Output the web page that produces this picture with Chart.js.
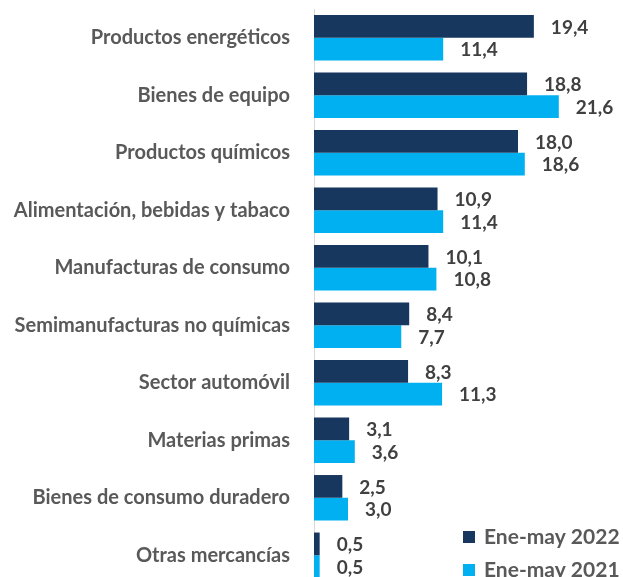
<!DOCTYPE html>
<html>
<head>
<meta charset="utf-8">
<script src="https://cdn.jsdelivr.net/npm/chart.js@4.4.0/dist/chart.umd.min.js"></script>
<style>
  html, body { margin: 0; padding: 0; background: #fff; overflow: hidden; }
  #wrap { position: relative; width: 623px; height: 586px; }
</style>
</head>
<body>
<div id="wrap"><canvas id="chart"></canvas></div>
<script>
const categories = [
  'Productos energéticos',
  'Bienes de equipo',
  'Productos químicos',
  'Alimentación, bebidas y tabaco',
  'Manufacturas de consumo',
  'Semimanufacturas no químicas',
  'Sector automóvil',
  'Materias primas',
  'Bienes de consumo duradero',
  'Otras mercancías'
];
const values2022 = [19.4, 18.8, 18.0, 10.9, 10.1, 8.4, 8.3, 3.1, 2.5, 0.5];
const values2021 = [11.4, 21.6, 18.6, 11.4, 10.8, 7.7, 11.3, 3.6, 3.0, 0.5];
const seriesLabels = ['Ene-may 2022', 'Ene-may 2021'];

const FONT = 'Lato, "Open Sans", sans-serif';

// value labels at the end of each bar
const valueLabels = {
  id: 'valueLabels',
  afterDatasetsDraw(chart) {
    const ctx = chart.ctx;
    ctx.save();
    ctx.font = 'bold 19px ' + FONT;
    ctx.fillStyle = '#404040';
    ctx.textBaseline = 'middle';
    ctx.textAlign = 'left';
    chart.data.datasets.forEach((ds, i) => {
      chart.getDatasetMeta(i).data.forEach((bar, j) => {
        const txt = ds.data[j].toFixed(1).replace('.', ',');
        ctx.fillText(txt, bar.x + 17, bar.y + 1);
      });
    });
    ctx.restore();
  }
};

// legend in the lower right corner
const cornerLegend = {
  id: 'cornerLegend',
  afterDraw(chart) {
    const ctx = chart.ctx;
    ctx.save();
    ctx.font = 'bold 21px ' + FONT;
    ctx.textBaseline = 'middle';
    chart.data.datasets.forEach((ds, i) => {
      const y = 537 + i * 33;
      ctx.fillStyle = ds.backgroundColor;
      ctx.fillRect(463, y - 6, 12, 12);
      ctx.fillStyle = '#595959';
      ctx.fillText(ds.label, 484, y);
    });
    ctx.restore();
  }
};

new Chart(document.getElementById('chart'), {
  type: 'bar',
  data: {
    labels: categories,
    datasets: [
      { label: seriesLabels[0], data: values2022, backgroundColor: '#17375E' },
      { label: seriesLabels[1], data: values2021, backgroundColor: '#00B0F0' }
    ]
  },
  options: {
    indexAxis: 'y',
    responsive: true,
    maintainAspectRatio: false,
    animation: false,
    layout: { padding: { top: 9, right: 3, bottom: 2, left: 0 } },
    datasets: { bar: { categoryPercentage: 0.79, barPercentage: 1 } },
    plugins: {
      legend: { display: false },
      tooltip: { enabled: false }
    },
    scales: {
      x: {
        display: false,
        min: 0,
        max: 27
      },
      y: {
        grid: { display: false, drawTicks: false },
        border: { color: '#D9D9D9', width: 1 },
        ticks: {
          color: '#595959',
          padding: 24,
          font: { family: FONT, size: 20, weight: 'bold' }
        },
        afterFit(scale) {
          scale.width = 314;
          scale.paddingTop = 0;
          scale.paddingBottom = 0;
        }
      }
    }
  },
  plugins: [valueLabels, cornerLegend]
});
</script>
</body>
</html>
